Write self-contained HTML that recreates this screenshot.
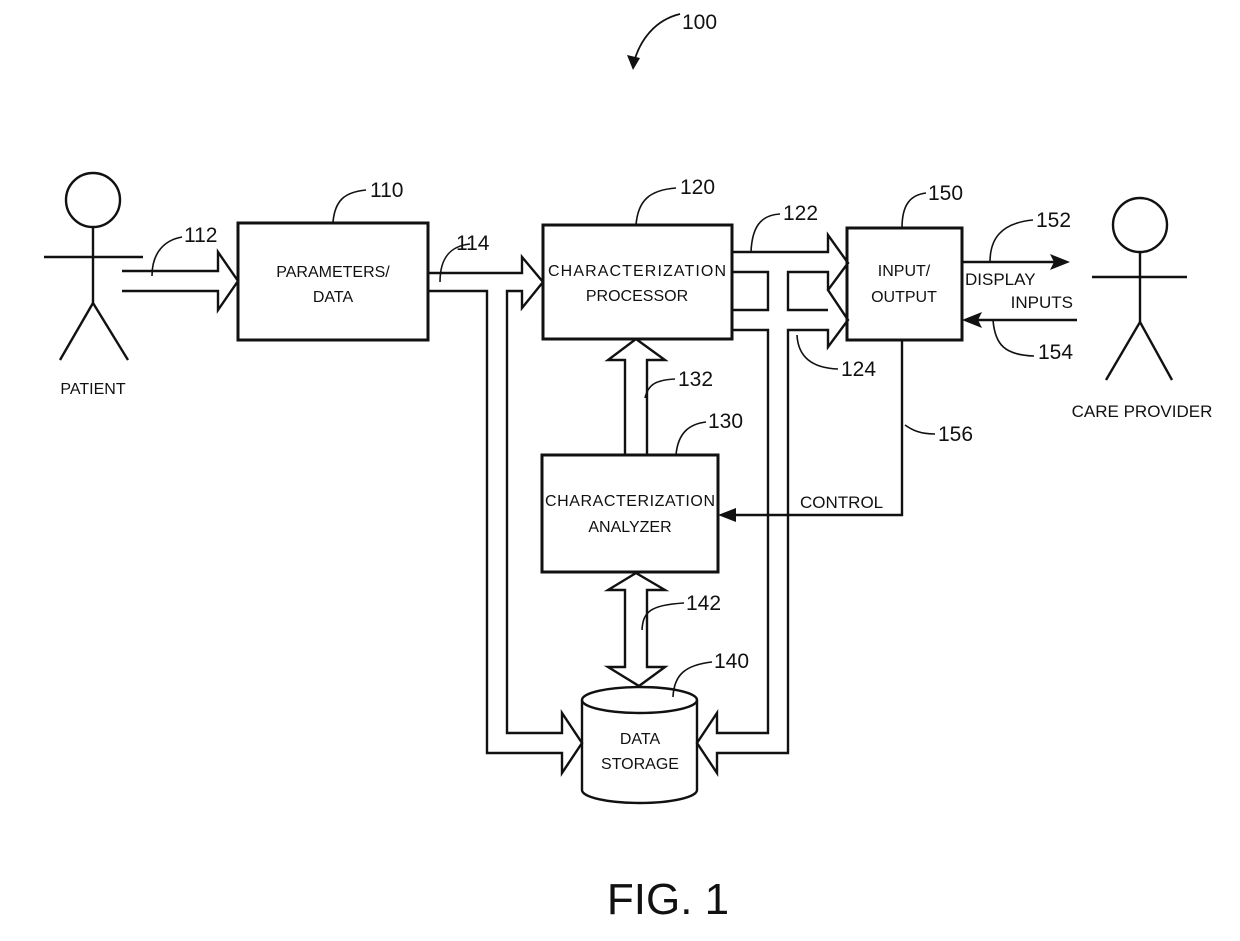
<!DOCTYPE html>
<html><head><meta charset="utf-8"><style>
html,body{margin:0;padding:0;background:#fff;}
svg{display:block;}
text{font-family:"Liberation Sans",Arial,sans-serif;fill:#111;}
.l{font-size:21px;}
.b{font-size:16px;text-anchor:middle;}
</style></head><body>
<svg width="1240" height="941" viewBox="0 0 1240 941" xmlns="http://www.w3.org/2000/svg">
<g fill="none" stroke="#111" stroke-width="2.4">
<circle cx="93" cy="200" r="27"/>
<line x1="93" y1="227" x2="93" y2="303"/>
<line x1="44" y1="257" x2="143" y2="257"/>
<polyline points="60,360 93,303 128,360"/>
<circle cx="1140" cy="225" r="27"/>
<line x1="1140" y1="252" x2="1140" y2="322"/>
<line x1="1092" y1="277" x2="1187" y2="277"/>
<polyline points="1106,380 1140,322 1172,380"/>
<rect x="238" y="223" width="190" height="117" stroke-width="3"/>
<rect x="543" y="225" width="189" height="114" stroke-width="3"/>
<rect x="847" y="228" width="115" height="112" stroke-width="3"/>
<rect x="542" y="455" width="176" height="117" stroke-width="3"/>
<path d="M582,700 L582,790 A57.5,13 0 0 0 697,790 L697,700"/>
<ellipse cx="639.5" cy="700" rx="57.5" ry="13"/>
<polyline points="122,271 218,271 218,252 238,281 218,310 218,291 122,291"/>
<polyline points="428,273 522,273 522,257 543,282 522,308 522,291 507,291 507,733 562,733 562,713 582,743 562,773 562,753 487,753 487,291 428,291"/>
<polyline points="732,252 828,252 828,235 848,263 828,290 848,320 828,347 828,330 788,330 788,753 717,753 717,773 697,743 717,713 717,733 768,733 768,330 732,330"/>
<polyline points="732,272 768,272 768,310 732,310"/>
<polyline points="828,290 828,272 788,272 788,310 828,310"/>
<polyline points="625,455 625,360 608,360 636,339 665,360 647,360 647,455"/>
<polygon points="636,573 665,590 647,590 647,667 665,667 639,686 608,667 625,667 625,590 608,590"/>
<line x1="962" y1="262" x2="1055" y2="262"/>
<line x1="975" y1="320" x2="1077" y2="320"/>
<polyline points="902,340 902,515 735,515"/>
<path d="M333,222 C335,200 345,192 366,190" stroke-width="1.6"/>
<path d="M152,276 C152,252 165,240 182,237" stroke-width="1.6"/>
<path d="M440,282 C440,258 450,246 470,244" stroke-width="1.6"/>
<path d="M636,225 C638,200 650,190 676,188" stroke-width="1.6"/>
<path d="M751,252 C752,228 760,215 780,214" stroke-width="1.6"/>
<path d="M902,228 C902,205 910,195 926,193" stroke-width="1.6"/>
<path d="M990,262 C990,240 1000,223 1033,220" stroke-width="1.6"/>
<path d="M993,320 C995,345 1005,355 1034,356" stroke-width="1.6"/>
<path d="M797,335 C798,355 810,368 838,369" stroke-width="1.6"/>
<path d="M645,398 C648,385 655,380 675,379" stroke-width="1.6"/>
<path d="M676,455 C678,432 690,424 706,422" stroke-width="1.6"/>
<path d="M905,425 C912,430 920,434 935,434" stroke-width="1.6"/>
<path d="M642,630 C643,612 650,605 684,603" stroke-width="1.6"/>
<path d="M673,697 C674,675 685,665 712,662" stroke-width="1.6"/>
<path d="M680,14 C655,20 640,40 634,62" stroke-width="1.8"/>
</g>
<g fill="#111">
<polygon points="1070,262 1050,254 1054,262 1050,270"/>
<polygon points="962,320 982,312 978,320 982,328"/>
<polygon points="718,515 736,508 736,522"/>
<polygon points="633,70 627,55 640,58"/>
</g>
<text class="b" x="333" y="277">PARAMETERS/</text>
<text class="b" x="333" y="302">DATA</text>
<text class="b" x="637" y="276" textLength="178">CHARACTERIZATION</text>
<text class="b" x="637" y="301">PROCESSOR</text>
<text class="b" x="630" y="506" textLength="170">CHARACTERIZATION</text>
<text class="b" x="630" y="532">ANALYZER</text>
<text class="b" x="904" y="276">INPUT/</text>
<text class="b" x="904" y="302">OUTPUT</text>
<text class="b" x="640" y="744">DATA</text>
<text class="b" x="640" y="769">STORAGE</text>
<text x="965" y="285" font-size="17">DISPLAY</text>
<text x="1073" y="308" font-size="17" text-anchor="end">INPUTS</text>
<text x="800" y="508" font-size="17">CONTROL</text>
<text x="93" y="394" font-size="16" text-anchor="middle">PATIENT</text>
<text x="1142" y="417" font-size="17" text-anchor="middle">CARE PROVIDER</text>
<text class="l" x="682" y="29">100</text>
<text class="l" x="370" y="197">110</text>
<text class="l" x="184" y="242">112</text>
<text class="l" x="456" y="250">114</text>
<text class="l" x="680" y="194">120</text>
<text class="l" x="783" y="220">122</text>
<text class="l" x="928" y="200">150</text>
<text class="l" x="1036" y="227">152</text>
<text class="l" x="1038" y="359">154</text>
<text class="l" x="841" y="376">124</text>
<text class="l" x="678" y="386">132</text>
<text class="l" x="708" y="428">130</text>
<text class="l" x="938" y="441">156</text>
<text class="l" x="686" y="610">142</text>
<text class="l" x="714" y="668">140</text>
<text x="668" y="914" font-size="44" text-anchor="middle">FIG. 1</text>
</svg>
</body></html>
